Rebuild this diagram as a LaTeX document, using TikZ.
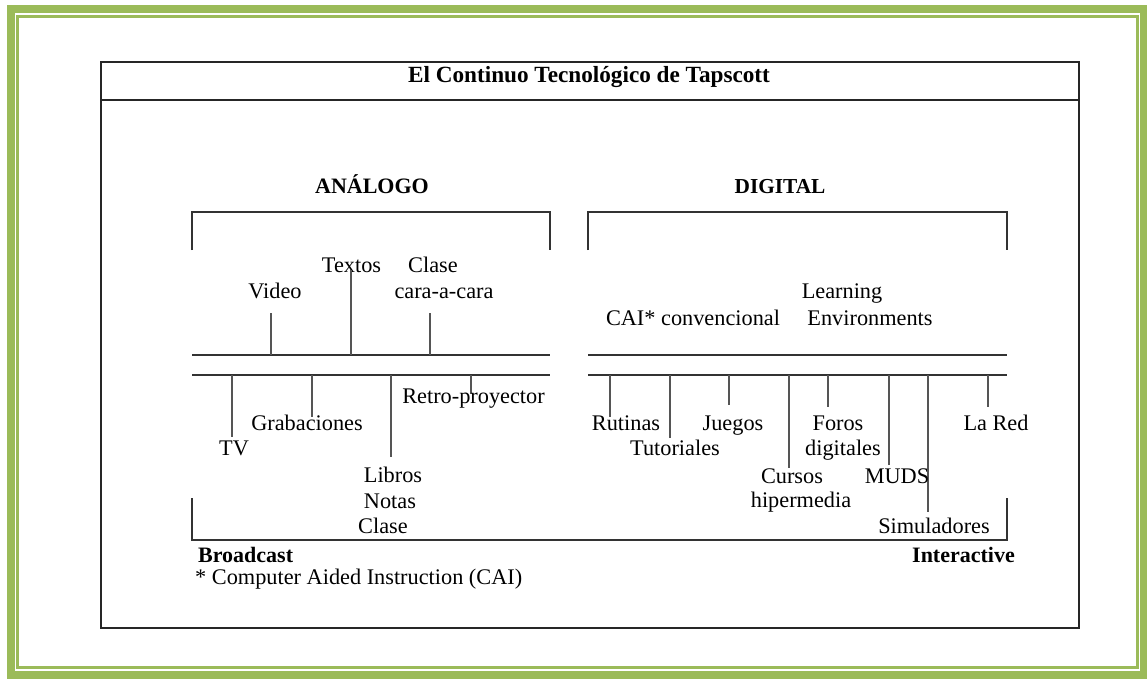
\documentclass[tikz,border=0pt]{standalone}
\usepackage{fontspec}
\setmainfont{Liberation Serif}
\definecolor{olive}{HTML}{9BBB59}
\definecolor{rail}{HTML}{333333}
\definecolor{tickc}{HTML}{555555}
\begin{document}
\begin{tikzpicture}[x=1pt,y=-1pt,
  lbl/.style={inner sep=0pt,anchor=base,font=\fontsize{22.3}{25.5}\selectfont},
  blbl/.style={inner sep=0pt,anchor=base,font=\fontsize{22}{25}\selectfont\bfseries},
  railline/.style={draw=rail,line width=1.4pt},
  tickline/.style={draw=tickc,line width=1.3pt},
  boxline/.style={draw=black!85,line width=1.6pt}]
\useasboundingbox (0,0) rectangle (1147,680);
\fill[white] (0,0) rectangle (1147,680);
% green frame
\draw[olive,line width=8pt] (11,9) rectangle (1143.5,675);
\draw[olive,line width=3pt] (17.5,16.5) rectangle (1137,667.5);
% outer box
\draw[boxline] (101,62) rectangle (1079,628);
\draw[boxline] (100,100) -- (1079,100);
\node[blbl,font=\fontsize{23.2}{26}\selectfont\bfseries] (title) at (589,82) {El Continuo Tecnológico de Tapscott};
% headings
\node[blbl] (analogo) at (372,193) {ANÁLOGO};
\node[blbl,font=\fontsize{21.3}{25}\selectfont\bfseries] (digital) at (780,193) {DIGITAL};
% top brackets
\draw[railline] (192,250) -- (192,212) -- (550,212) -- (550,250);
\draw[railline] (588,250) -- (588,212) -- (1007,212) -- (1007,250);
% rails
\draw[railline] (192,355) -- (550,355);
\draw[railline] (192,375) -- (550,375);
\draw[railline] (588,355) -- (1007,355);
\draw[railline] (588,375) -- (1007,375);
% bottom bracket
\draw[railline] (192,498) -- (192,540) -- (1007,540) -- (1007,498);
% analog upper labels
\node[lbl] (video) at (275,298) {Video};
\node[lbl] (textos) at (351.5,272) {Textos};
\node[lbl] (clase1) at (433,272) {Clase};
\node[lbl] (cara) at (444,298) {cara-a-cara};
\draw[tickline] (271,355) -- (271,313);
\draw[tickline] (351,355) -- (351,270);
\draw[tickline] (430,355) -- (430,313);
% analog lower
\draw[tickline] (232,375) -- (232,437);
\draw[tickline] (312,375) -- (312,417);
\draw[tickline] (391,375) -- (391,457);
\draw[tickline] (471,375) -- (471,394);
\node[lbl] (tv) at (234,455) {TV};
\node[lbl] (grab) at (307,430) {Grabaciones};
\node[lbl] (retro) at (473.5,403) {Retro-proyector};
\node[lbl] (libros) at (393,482) {Libros};
\node[lbl] (notas) at (390,508) {Notas};
\node[lbl] (clase2) at (383,533) {Clase};
% digital upper
\node[lbl] (cai) at (693,325) {CAI* convencional};
\node[lbl] (learn) at (842,298) {Learning};
\node[lbl] (env) at (870,325) {Environments};
% digital lower
\draw[tickline] (610,375) -- (610,417);
\draw[tickline] (670,375) -- (670,438);
\draw[tickline] (729,375) -- (729,405);
\draw[tickline] (789,375) -- (789,468);
\draw[tickline] (828,375) -- (828,407);
\draw[tickline] (889,375) -- (889,465);
\draw[tickline] (928,375) -- (928,512);
\draw[tickline] (988,375) -- (988,407);
\node[lbl] (rut) at (626,430) {Rutinas};
\node[lbl] (tut) at (675,455) {Tutoriales};
\node[lbl] (jue) at (733,430) {Juegos};
\node[lbl] (cur) at (792,483) {Cursos};
\node[lbl] (hip) at (801,507) {hipermedia};
\node[lbl] (for) at (838,430) {Foros};
\node[lbl] (dig) at (843,455) {digitales};
\node[lbl] (mud) at (897,483) {MUDS};
\node[lbl] (sim) at (934,533) {Simuladores};
\node[lbl] (red) at (996,430) {La Red};
% bottom labels
\node[blbl,anchor=base west] (broad) at (198,562) {Broadcast};
\node[blbl,anchor=base east] (inter) at (1015,562) {Interactive};
\node[lbl,anchor=base west] (note) at (195,584) {* Computer Aided Instruction (CAI)};
\end{tikzpicture}
\end{document}
